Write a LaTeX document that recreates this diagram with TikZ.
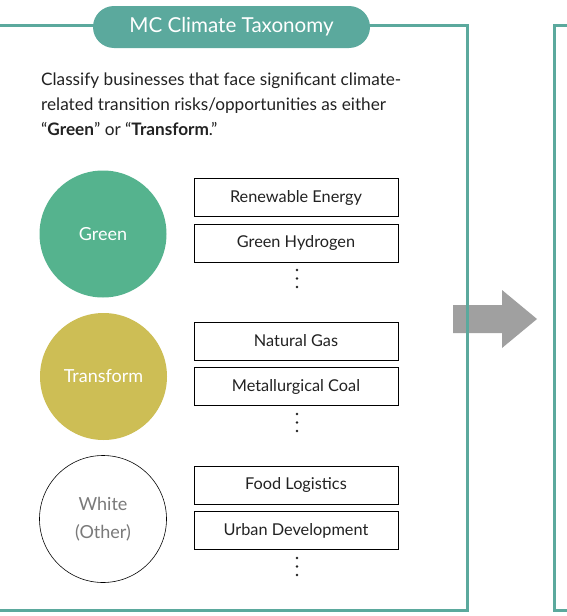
\documentclass[tikz,border=0pt]{standalone}
\usepackage{fontspec}
\setmainfont{Lato}
\definecolor{teal}{HTML}{5BA99D}
\definecolor{cgreen}{HTML}{55B38E}
\definecolor{cyellow}{HTML}{CDBE55}
\definecolor{agray}{HTML}{A0A0A0}
\definecolor{tgray}{HTML}{7A7A7A}
\definecolor{ink}{HTML}{222222}
\begin{document}
\begin{tikzpicture}[x=1pt,y=-1pt,
  frame/.style={draw=teal,line width=3pt},
  catcircle/.style={circle,minimum size=127pt,inner sep=0pt,align=center,font=\fontsize{18}{28}\selectfont},
  itembox/.style={draw=black,line width=0.8pt,minimum width=204pt,minimum height=38pt,inner sep=0pt,font=\fontsize{16.3}{18}\selectfont,text=ink},
  para/.style={anchor=base west,inner sep=0pt,font=\fontsize{17.2}{22}\selectfont,text=ink},
  dot/.style={circle,fill=ink,inner sep=0pt,minimum size=2.6pt}]
\useasboundingbox (0,0) rectangle (566,616);
\fill[white] (0,0) rectangle (566,616);
% frames
\coordinate (lf1) at (-3,25);
\coordinate (lf2) at (467,25);
\coordinate (lf3) at (467,610);
\coordinate (lf4) at (-3,610);
\draw[frame] (lf1) -- (lf2) -- (lf3) -- (lf4);
\coordinate (rf1) at (570,25);
\coordinate (rf2) at (554,25);
\coordinate (rf3) at (554,610);
\coordinate (rf4) at (570,610);
\draw[frame] (rf1) -- (rf2) -- (rf3) -- (rf4);
% title
\node[fill=teal,rounded corners=21pt,minimum width=277pt,minimum height=42pt,inner sep=0pt,text=white,font=\fontsize{20.6}{24}\selectfont] (title) at (231.5,27) {MC Climate Taxonomy};
% paragraph
\node[para] (p1) at (41,85) {Classify businesses that face significant climate-};
\node[para] (p2) at (41,110) {related transition risks/opportunities as either};
\node[para] (p3) at (41,135) {“\textbf{Green}” or “\textbf{Transform}.”};
% circles
\node[catcircle,fill=cgreen,text=white] (green) at (103,234) {Green};
\node[catcircle,fill=cyellow,text=white] (transform) at (103.5,376.5) {Transform};
\node[catcircle,draw=black,line width=0.6pt,text=tgray] (white) at (103,519) {White\\(Other)};
% boxes
\node[itembox] (b1) at (296,197.5) {Renewable Energy};
\node[itembox] (b2) at (296,243) {Green Hydrogen};
\node[itembox] (b3) at (296,341) {Natural Gas};
\node[itembox] (b4) at (296,386.5) {Metallurgical Coal};
\node[itembox] (b5) at (296,485) {Food Logistics};
\node[itembox] (b6) at (296,530.5) {Urban Development};
% dots
\foreach \y/\n in {270/a,278.5/b,287/c} {\node[dot] (d1\n) at (297,\y) {};}
\foreach \y/\n in {414/a,422.5/b,431/c} {\node[dot] (d2\n) at (297,\y) {};}
\foreach \y/\n in {558/a,566.5/b,575/c} {\node[dot] (d3\n) at (297,\y) {};}
% arrow
\fill[agray] (453,305) -- (502,305) -- (502,290) -- (537,319) -- (502,348) -- (502,333) -- (453,333) -- cycle;
\draw[teal,line width=3pt] (467,290) -- (467,350);
\end{tikzpicture}
\end{document}
